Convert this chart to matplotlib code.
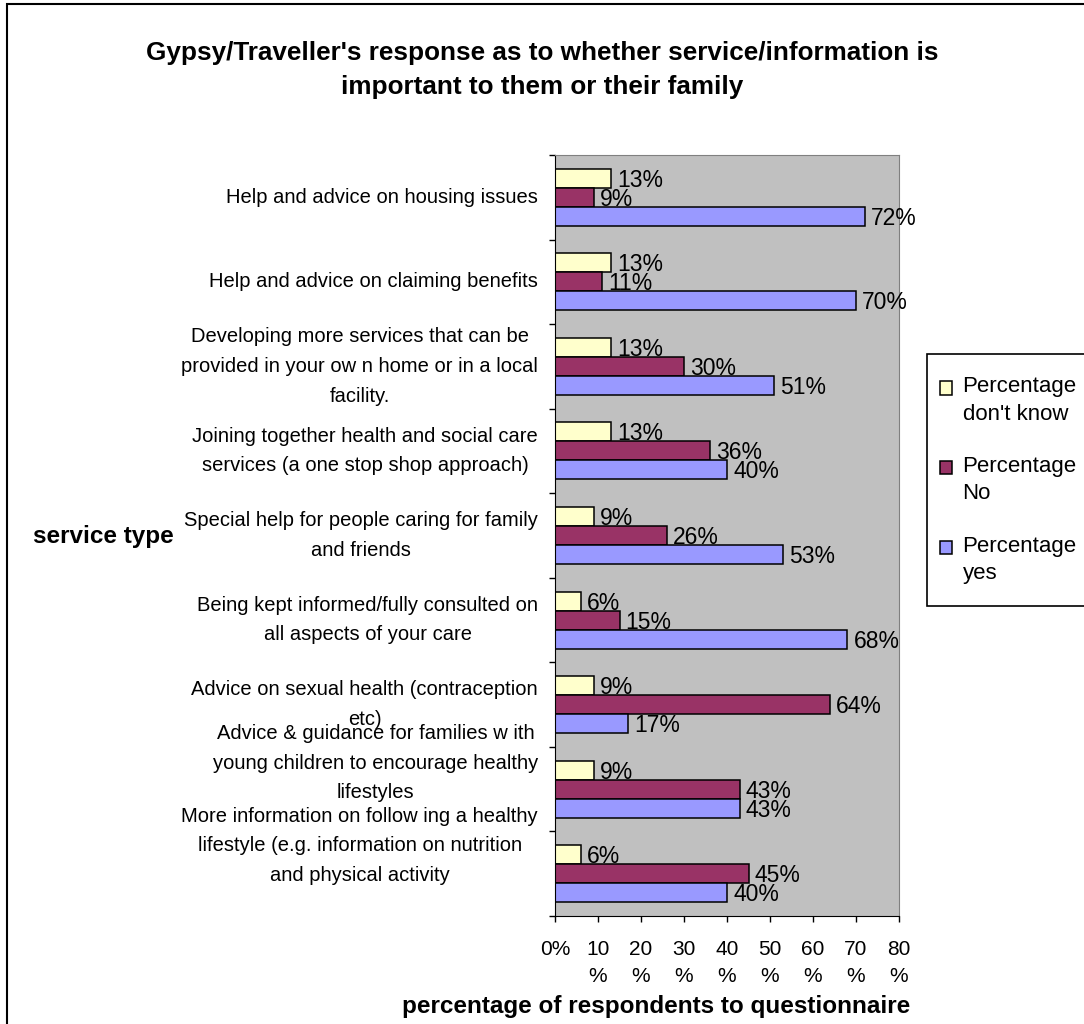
import matplotlib.pyplot as plt
import matplotlib.patches as mpatches
from matplotlib.legend_handler import HandlerPatch
import numpy as np

plt.rcParams['font.family'] = ['Liberation Sans', 'DejaVu Sans']

# data (top to bottom)
categories = [
    "Help and advice on housing issues",
    "Help and advice on claiming benefits",
    "Developing more services that can be\nprovided in your ow n home or in a local\nfacility.",
    "Joining together health and social care\nservices (a one stop shop approach)",
    "Special help for people caring for family\nand friends",
    "Being kept informed/fully consulted on\nall aspects of your care",
    "Advice on sexual health (contraception\netc)",
    "Advice & guidance for families w ith\nyoung children to encourage healthy\nlifestyles",
    "More information on follow ing a healthy\nlifestyle (e.g. information on nutrition\nand physical activity",
]
dont_know = [13, 13, 13, 13, 9, 6, 9, 9, 6]
no = [9, 11, 30, 36, 26, 15, 64, 43, 45]
yes = [72, 70, 51, 40, 53, 68, 17, 43, 40]
series_names = ["Percentage\ndon't know", "Percentage\nNo", "Percentage\nyes"]
x_ticks = [0, 10, 20, 30, 40, 50, 60, 70, 80]

colors = ['#FFFFCC', '#993366', '#9999FF']

W, H = 1084, 1024
fig = plt.figure(figsize=(W / 100, H / 100), dpi=100)
fig.patch.set_facecolor('white')

# outer chart frame (clipped at right/bottom like the original)
fig.patches.append(mpatches.Rectangle((7 / W, -0.2), 1.5, 1.2 - 4 / H,
                                      transform=fig.transFigure, fill=False,
                                      edgecolor='black', linewidth=1.5))

ax = fig.add_axes([555 / W, 1 - 916 / H, (899 - 555) / W, (916 - 155) / H])
ax.set_facecolor('#C0C0C0')

y = np.arange(len(categories))
h = 0.225
for vals, off, col in zip([dont_know, no, yes], [-h, 0, h], colors):
    bars = ax.barh(y + off, vals, height=h, color=col, edgecolor='black', linewidth=1.1)
    for b, v in zip(bars, vals):
        ax.annotate(f"{v}%", xy=(b.get_width(), b.get_y() + b.get_height() / 2),
                    xytext=(6, -2), textcoords='offset pixels',
                    ha='left', va='center', fontsize=16.5)

ax.set_xlim(0, 80)
ax.set_ylim(len(categories) - 0.5, -0.5)
ax.set_xticks(x_ticks)
ax.set_xticklabels(['0%'] + [f"{t}\n%" for t in x_ticks[1:]], fontsize=15, linespacing=1.57)
ax.set_yticks(np.arange(len(categories) + 1) - 0.5)
ax.set_yticklabels([])
ax.tick_params(axis='both', direction='out', length=4, width=1, color='black')
ax.tick_params(axis='x', pad=13)

# category labels
nudges = [0, 0, 0, 0, 0, 0, 0, 26, 28]
for i, (lab, nd) in enumerate(zip(categories, nudges)):
    ax.annotate(lab, xy=(0, i), xycoords=ax.get_yaxis_transform(),
                xytext=(-17, nd), textcoords='offset pixels',
                ha='right', va='center', multialignment='center',
                fontsize=14.5, linespacing=1.71)

for s in ['top', 'right']:
    ax.spines[s].set_color('#808080')
for s in ['left', 'bottom']:
    ax.spines[s].set_color('black')

# titles
fig.text(542 / W, 1 - 70 / H,
         "Gypsy/Traveller's response as to whether service/information is\nimportant to them or their family",
         ha='center', va='center', fontsize=18.8, fontweight='bold', linespacing=1.55)
fig.text(33 / W, 1 - 537 / H, "service type", ha='left', va='center',
         fontsize=17.5, fontweight='bold')
fig.text(656 / W, 1 - 1006 / H, "percentage of respondents to questionnaire",
         ha='center', va='center', fontsize=17.5, fontweight='bold')


# legend: square aligned with first line of each label
def top_square(legend, orig_handle, xdescent, ydescent, width, height, fontsize):
    return mpatches.Rectangle((-xdescent - 6.5, -ydescent + 9), width, height)


handles = [mpatches.Patch(facecolor=c, edgecolor='black', linewidth=1.1) for c in colors]
leg = fig.legend(handles, series_names, loc='upper left',
                 bbox_to_anchor=(927 / W, 1 - 354 / H), borderaxespad=0,
                 fontsize=16, fancybox=False, framealpha=1, edgecolor='black',
                 handlelength=0.55, handleheight=0.55, handletextpad=0.05,
                 labelspacing=1.41, borderpad=1.0,
                 handler_map={mpatches.Patch: HandlerPatch(patch_func=top_square)})
leg.get_frame().set_linewidth(1.2)
for t in leg.get_texts():
    t.set_linespacing(1.4)

fig.savefig('out.png', dpi=100)
